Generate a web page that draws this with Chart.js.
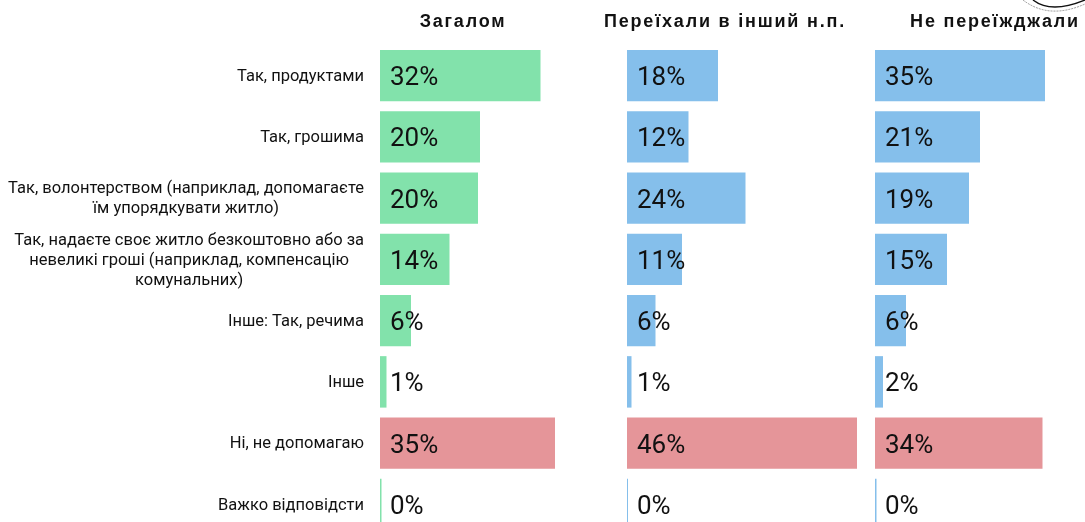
<!DOCTYPE html>
<html>
<head>
<meta charset="utf-8">
<script src="https://cdn.jsdelivr.net/npm/chart.js@4/dist/chart.umd.js"></script>
<style>
html, body { margin: 0; padding: 0; background: #fff; overflow: hidden; }
#wrap { position: relative; width: 1085px; height: 522px; overflow: hidden; }
#wrap div { position: absolute; top: 0; height: 540px; }
#stamp { position: absolute; left: 1015px; top: 0; }
</style>
</head>
<body>
<div id="wrap">
    <div style="left:0;width:610px"><canvas id="chartAll"></canvas></div>
    <div style="left:590px;width:267px"><canvas id="chartMoved"></canvas></div>
    <div style="left:858px;width:247px"><canvas id="chartStayed"></canvas></div>
    <!-- bottom edge of the round stamp that sits in the corner of the source slide -->
    <svg id="stamp" width="70" height="20" fill="none">
        <path d="M8 0 Q34 20 70 4" stroke="#555" stroke-width="0.6" stroke-dasharray="2 1"/>
        <path d="M18 0 Q36 14 70 0" stroke="#111" stroke-width="1.4"/>
    </svg>
</div>
<script>
const categories = [
    ["Так, продуктами"],
    ["Так, грошима"],
    ["Так, волонтерством (наприклад, допомагаєте", "їм упорядкувати житло)"],
    ["Так, надаєте своє житло безкоштовно або за", "невеликі гроші (наприклад, компенсацію", "комунальних)"],
    ["Інше: Так, речима"],
    ["Інше"],
    ["Ні, не допомагаю"],
    ["Важко відповідсти"]
];
const titles = ["Загалом", "Переїхали в інший н.п.", "Не переїжджали"];
const valuesAll = [32.1, 20, 19.6, 13.9, 6.2, 1.3, 35, 0.3];
const valuesMoved = [18.2, 12.3, 23.7, 11, 5.7, 0.9, 46, 0.2];
const valuesStayed = [34, 21, 18.8, 14.4, 6.2, 1.6, 33.5, 0.3];
const labelsAll = ["32%", "20%", "20%", "14%", "6%", "1%", "35%", "0%"];
const labelsMoved = ["18%", "12%", "24%", "11%", "6%", "1%", "46%", "0%"];
const labelsStayed = ["35%", "21%", "19%", "15%", "6%", "2%", "34%", "0%"];

const GREEN = "#82e2ab";
const BLUE = "#85bfeb";
const RED = "#e59599";
const NO_ANSWER_INDEX = 6;

// value labels, column title and the wrapped category names
const panelText = {
    id: "panelText",
    afterDatasetsDraw(chart, args, opts) {
        const ctx = chart.ctx;
        const x = chart.scales.x;
        const y = chart.scales.y;
        ctx.save();
        ctx.fillStyle = "#111";
        ctx.textBaseline = "middle";

        ctx.font = "26px Roboto";
        ctx.textAlign = "left";
        opts.values.forEach((text, i) => {
            ctx.fillText(text, x.left + 10, y.getPixelForValue(i) + 3);
        });

        ctx.font = "bold 18px 'Liberation Sans'";
        ctx.letterSpacing = "1.8px";
        ctx.textAlign = "center";
        ctx.fillText(opts.title, opts.titleX, 22);
        ctx.letterSpacing = "0px";

        if (opts.showCategories) {
            ctx.font = "16.5px Roboto";
            categories.forEach((lines, i) => {
                const widest = Math.max(...lines.map(l => ctx.measureText(l).width));
                const middle = x.left - 16 - widest / 2;
                const top = y.getPixelForValue(i) + 1 - (lines.length - 1) * 10;
                lines.forEach((line, n) => {
                    ctx.fillText(line, middle, top + n * 20);
                });
            });
        }
        ctx.restore();
    }
};

function drawPanel(id, values, labels, color, left, title, titleX, showCategories) {
    new Chart(document.getElementById(id), {
        type: "bar",
        data: {
            labels: categories,
            datasets: [{
                data: values,
                backgroundColor: values.map((v, i) => i === NO_ANSWER_INDEX ? RED : color),
                barPercentage: 0.84,
                categoryPercentage: 1
            }]
        },
        options: {
            indexAxis: "y",
            responsive: true,
            maintainAspectRatio: false,
            animation: false,
            layout: { padding: { left: left, right: 0, top: 45, bottom: 5 } },
            scales: {
                x: { display: false, min: 0, max: 46 },
                y: { display: false }
            },
            plugins: {
                legend: { display: false },
                tooltip: { enabled: false },
                panelText: { values: labels, title: title, titleX: titleX, showCategories: showCategories }
            }
        },
        plugins: [panelText]
    });
}

drawPanel("chartAll", valuesAll, labelsAll, GREEN, 380, titles[0], 463, true);
drawPanel("chartMoved", valuesMoved, labelsMoved, BLUE, 37, titles[1], 135, false);
drawPanel("chartStayed", valuesStayed, labelsStayed, BLUE, 17, titles[2], 137, false);
</script>
</body>
</html>
